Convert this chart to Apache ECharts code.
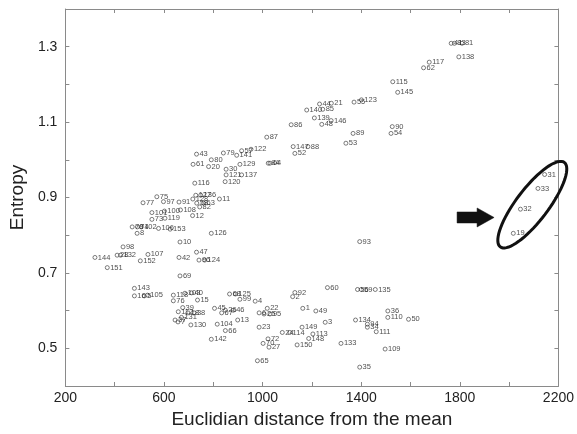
<!DOCTYPE html>
<html>
<head>
<meta charset="utf-8">
<script src="https://cdn.jsdelivr.net/npm/echarts@6/dist/echarts.min.js"></script>
<style>
  html, body { margin: 0; padding: 0; background: #fff; }
  #chart { width: 577px; height: 434px; }
</style>
</head>
<body>
<div id="chart"></div>
<script>
// point labels, distance from the mean (x) and entropy (y)
var pointLabels = [
  '41', '83', '81', '138', '117', '62', '115', '145', '90', '54',
  '44', '21', '55', '123', '140', '85', '139', '146', '48', '86',
  '87', '89', '53', '147', '88', '52', '79', '57', '122', '141',
  '84', '64', '129', '30', '121', '137', '120', '43', '80', '61',
  '20', '116', '75', '97', '77', '91', '11', '127', '136', '128',
  '58', '63', '82', '101', '100', '108', '73', '119', '12', '106',
  '153', '126', '10', '98', '78', '74', '102', '8', '144', '28',
  '132', '107', '152', '151', '42', '47', '96', '124', '69', '143',
  '16', '5', '105', '118', '103', '40', '76', '15', '39', '112',
  '38', '18', '131', '37', '7', '130', '45', '26', '46', '67',
  '13', '104', '66', '142', '60', '56', '59', '135', '92', '2',
  '68', '125', '99', '4', '22', '6', '25', '95', '1', '49',
  '3', '23', '24', '114', '149', '113', '148', '150', '72', '70',
  '27', '134', '94', '34', '111', '133', '65', '35', '93', '36',
  '110', '50', '109', '31', '33', '32', '19'
];
var distances = [
  1765, 1778, 1809, 1796, 1676, 1653, 1528, 1548, 1526, 1521,
  1231, 1279, 1371, 1401, 1179, 1244, 1210, 1278, 1240, 1116,
  1017, 1367, 1338, 1124, 1184, 1131, 841, 915, 953, 895,
  1023, 1030, 908, 852, 852, 915, 848, 732, 792, 718,
  781, 725, 571, 598, 515, 661, 825, 729, 749, 717,
  733, 761, 745, 551, 602, 667, 551, 604, 716, 578,
  625, 792, 665, 434, 471, 492, 508, 491, 320, 410,
  424, 535, 504, 370, 661, 732, 742, 765, 665, 480,
  480, 520, 533, 638, 685, 712, 638, 736, 676, 658,
  722, 697, 671, 645, 657, 709, 805, 849, 881, 834,
  899, 816, 849, 792, 1263, 1385, 1400, 1457, 1131, 1122,
  866, 890, 908, 970, 1019, 986, 1006, 1030, 1163, 1216,
  1254, 986, 1080, 1110, 1160, 1204, 1187, 1140, 1022, 1002,
  1026, 1377, 1425, 1425, 1461, 1318, 979, 1394, 1394, 1508,
  1508, 1592, 1497, 2144, 2117, 2046, 2017
];
var entropies = [
  1.309, 1.309, 1.309, 1.273, 1.259, 1.244, 1.207, 1.179, 1.088, 1.070,
  1.148, 1.150, 1.153, 1.159, 1.132, 1.134, 1.111, 1.104, 1.094, 1.093,
  1.060, 1.070, 1.044, 1.035, 1.035, 1.017, 1.018, 1.024, 1.028, 1.012,
  0.991, 0.991, 0.988, 0.975, 0.960, 0.960, 0.942, 1.015, 1.000, 0.988,
  0.982, 0.938, 0.902, 0.889, 0.886, 0.888, 0.896, 0.906, 0.906, 0.896,
  0.885, 0.885, 0.875, 0.860, 0.864, 0.867, 0.842, 0.845, 0.852, 0.818,
  0.816, 0.805, 0.782, 0.769, 0.822, 0.822, 0.822, 0.805, 0.741, 0.747,
  0.747, 0.749, 0.732, 0.714, 0.741, 0.755, 0.734, 0.734, 0.692, 0.659,
  0.639, 0.639, 0.641, 0.641, 0.646, 0.647, 0.626, 0.628, 0.608, 0.597,
  0.594, 0.594, 0.582, 0.575, 0.570, 0.562, 0.606, 0.601, 0.601, 0.594,
  0.575, 0.564, 0.547, 0.524, 0.661, 0.656, 0.656, 0.656, 0.648, 0.637,
  0.644, 0.644, 0.630, 0.625, 0.606, 0.594, 0.591, 0.591, 0.606, 0.599,
  0.569, 0.556, 0.542, 0.542, 0.556, 0.538, 0.526, 0.509, 0.525, 0.513,
  0.503, 0.575, 0.564, 0.556, 0.544, 0.513, 0.467, 0.450, 0.783, 0.599,
  0.582, 0.577, 0.498, 0.961, 0.924, 0.869, 0.805
];

// annotation: ellipse round the outlying group and the arrow pointing at it
var ellipseCenter = [2094, 0.881];
var arrowTip = [1939, 0.847];

var fontFamily = 'Liberation Sans, Arial, sans-serif';
var axisGray = '#8a8a8a';

var chart = echarts.init(document.getElementById('chart'));

var points = [];
for (var i = 0; i < pointLabels.length; i++) {
  points.push({ name: pointLabels[i], value: [distances[i], entropies[i]] });
}

function xLabel(v) {
  return (Math.round(v - 200) % 400 === 0) ? String(v) : '';
}
function yLabel(v) {
  var k = Math.round(v * 10);
  return (k % 2 === 1) ? (k / 10).toFixed(1) : '';
}

var tickStyle = { inside: true, length: 4, lineStyle: { color: axisGray, width: 1 } };
var lineStyle = { show: true, lineStyle: { color: axisGray, width: 1 } };

chart.setOption({
  animation: false,
  backgroundColor: '#fff',
  textStyle: { fontFamily: fontFamily },
  grid: { left: 64, right: 15, top: 9, bottom: 47, containLabel: false },
  xAxis: [{
    type: 'value', min: 200, max: 2200, interval: 200, position: 'bottom',
    axisLine: lineStyle, axisTick: tickStyle, splitLine: { show: false },
    axisLabel: { formatter: xLabel, color: '#222', fontSize: 14, margin: 5, fontFamily: fontFamily },
    name: 'Euclidian distance from the mean', nameLocation: 'middle', nameGap: 24,
    nameTextStyle: { fontSize: 19, color: '#222', fontFamily: fontFamily }
  }, {
    type: 'value', min: 200, max: 2200, interval: 200, position: 'top',
    axisLine: lineStyle, axisTick: tickStyle, splitLine: { show: false },
    axisLabel: { show: false }
  }],
  yAxis: [{
    type: 'value', min: 0.4, max: 1.4, interval: 0.1, position: 'left',
    axisLine: lineStyle, axisTick: tickStyle, splitLine: { show: false },
    axisLabel: { formatter: yLabel, color: '#222', fontSize: 14, margin: 8, fontFamily: fontFamily },
    name: 'Entropy', nameLocation: 'middle', nameGap: 38,
    nameTextStyle: { fontSize: 19, color: '#222', fontFamily: fontFamily }
  }, {
    type: 'value', min: 0.4, max: 1.4, interval: 0.1, position: 'right',
    axisLine: lineStyle, axisTick: tickStyle, splitLine: { show: false },
    axisLabel: { show: false }
  }],
  series: [{
    type: 'scatter',
    xAxisIndex: 0,
    yAxisIndex: 0,
    symbol: 'circle',
    symbolSize: 4,
    itemStyle: { color: 'rgba(0,0,0,0)', borderColor: '#333', borderWidth: 0.8 },
    label: {
      show: true, position: 'right', distance: 0.5,
      formatter: '{b}', fontSize: 7.5, color: '#222', fontFamily: fontFamily
    },
    emphasis: { disabled: true },
    data: points
  }]
});

// annotation drawn in pixels around data anchors
var c = chart.convertToPixel({ gridIndex: 0 }, ellipseCenter);
var a = 53, b = 16, phi = -52.8 * Math.PI / 180;
var ellipsePts = [];
for (var t = 0; t < 72; t++) {
  var ang = t / 72 * Math.PI * 2;
  var ex = a * Math.cos(ang), ey = b * Math.sin(ang);
  ellipsePts.push([
    c[0] + ex * Math.cos(phi) - ey * Math.sin(phi),
    c[1] + ex * Math.sin(phi) + ey * Math.cos(phi)
  ]);
}
var tip = chart.convertToPixel({ gridIndex: 0 }, arrowTip);
var arrowPts = [
  [tip[0] - 37, tip[1] - 5.5], [tip[0] - 17, tip[1] - 5.5], [tip[0] - 17, tip[1] - 9.5],
  [tip[0], tip[1]],
  [tip[0] - 17, tip[1] + 9.5], [tip[0] - 17, tip[1] + 5.5], [tip[0] - 37, tip[1] + 5.5]
];

chart.setOption({
  graphic: [{
    type: 'polygon', shape: { points: ellipsePts },
    style: { fill: 'none', stroke: '#111', lineWidth: 3 }, z: 10
  }, {
    type: 'polygon', shape: { points: arrowPts },
    style: { fill: '#111', stroke: '#111', lineWidth: 0.5 }, z: 10
  }]
});
</script>
</body>
</html>
